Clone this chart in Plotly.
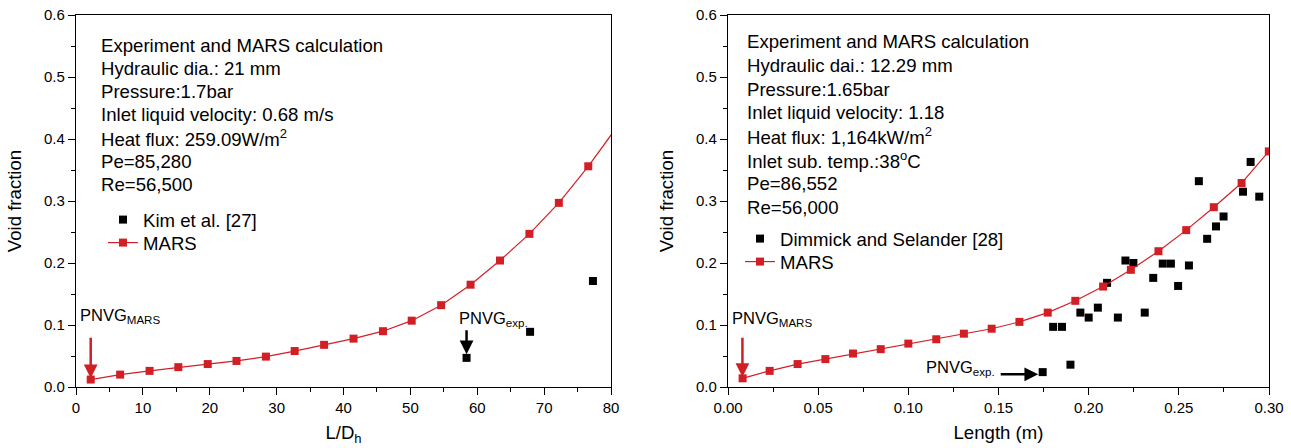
import plotly.graph_objects as go

# ---------------- data ----------------
left_ld = [2.2, 6.6, 11.0, 15.3, 19.7, 24.0, 28.4, 32.7, 37.1, 41.5, 45.9, 50.2,
           54.6, 59.0, 63.4, 67.8, 72.2, 76.6, 81.0]
left_mars = [0.012, 0.020, 0.026, 0.032, 0.037, 0.042, 0.049, 0.058, 0.068, 0.078,
             0.090, 0.107, 0.132, 0.165, 0.204, 0.247, 0.297, 0.356, 0.421]
left_exp_x = [58.4, 67.9, 77.3]
left_exp_y = [0.047, 0.089, 0.171]

right_len = [0.0081, 0.0231, 0.0386, 0.0540, 0.0693, 0.0847, 0.1000, 0.1155, 0.1308,
             0.1462, 0.1616, 0.1773, 0.1926, 0.2080, 0.2234, 0.2387, 0.2541, 0.2694,
             0.2848, 0.2999]
right_mars = [0.014, 0.026, 0.037, 0.045, 0.054, 0.061, 0.070, 0.077, 0.086, 0.094,
              0.105, 0.120, 0.139, 0.162, 0.189, 0.219, 0.253, 0.290, 0.329, 0.380]
right_exp_x = [0.1745, 0.1803, 0.1852, 0.1899, 0.1954, 0.2000, 0.2051, 0.2102, 0.2162,
               0.2204, 0.2248, 0.2311, 0.2358, 0.2411, 0.2456, 0.2496, 0.2556, 0.2611,
               0.2657, 0.2706, 0.2748, 0.2856, 0.2898, 0.2946]
right_exp_y = [0.024, 0.097, 0.097, 0.036, 0.120, 0.112, 0.128, 0.168, 0.112,
               0.204, 0.200, 0.120, 0.176, 0.199, 0.199, 0.163, 0.196, 0.332,
               0.239, 0.259, 0.275, 0.315, 0.363, 0.307]

left_info = ["Experiment and MARS calculation", "Hydraulic dia.: 21 mm", "Pressure:1.7bar",
             "Inlet liquid velocity: 0.68 m/s", "Heat flux: 259.09W/m<sup>2</sup>",
             "Pe=85,280", "Re=56,500"]
right_info = ["Experiment and MARS calculation", "Hydraulic dai.: 12.29 mm", "Pressure:1.65bar",
              "Inlet liquid velocity: 1.18", "Heat flux: 1,164kW/m<sup>2</sup>",
              "Inlet sub. temp.:38<sup>o</sup>C", "Pe=86,552", "Re=56,000"]

RED = "#d21f26"
FONT = "Arial, Liberation Sans, sans-serif"
W, H = 1291, 448
T, B = 15, 61
PH = H - T - B
TXT = 18.6


def px_x(p):
    return p / W


def px_y(p):
    return (H - B - p) / PH


fig = go.Figure()
fig.add_trace(go.Scatter(x=left_exp_x, y=left_exp_y, mode="markers", name="Kim et al. [27]",
                         marker=dict(symbol="square", size=8, color="black"),
                         xaxis="x", yaxis="y", legend="legend"))
fig.add_trace(go.Scatter(x=left_ld, y=left_mars, mode="lines+markers", name="MARS",
                         line=dict(color=RED, width=1.2),
                         marker=dict(symbol="square", size=8, color=RED),
                         xaxis="x", yaxis="y", legend="legend2"))
fig.add_trace(go.Scatter(x=right_exp_x, y=right_exp_y, mode="markers",
                         name="Dimmick and Selander [28]",
                         marker=dict(symbol="square", size=8, color="black"),
                         xaxis="x2", yaxis="y2", legend="legend3"))
fig.add_trace(go.Scatter(x=right_len, y=right_mars, mode="lines+markers", name="MARS",
                         line=dict(color=RED, width=1.2),
                         marker=dict(symbol="square", size=8, color=RED),
                         xaxis="x2", yaxis="y2", legend="legend4"))

axis_common = dict(showline=True, linecolor="black", linewidth=1.3, mirror=True,
                   ticks="outside", ticklen=7, tickwidth=1.2, tickcolor="black",
                   showgrid=False, zeroline=False, automargin=False,
                   tickfont=dict(family=FONT, size=15, color="black"))
minor_common = dict(ticks="outside", ticklen=4, tickwidth=1.1, tickcolor="black")


def leg(x, y):
    return dict(x=x, y=y, xanchor="left", yanchor="middle", xref="paper", yref="paper",
                bgcolor="rgba(0,0,0,0)", font=dict(family=FONT, size=TXT), borderwidth=0)


fig.update_layout(
    width=W, height=H,
    showlegend=True,
    margin=dict(l=0, r=0, t=T, b=B, autoexpand=False),
    paper_bgcolor="white", plot_bgcolor="white",
    font=dict(family=FONT, size=18, color="black"),
    xaxis=dict(domain=[76/W, 611/W], range=[0, 80], dtick=10, tick0=0,
               minor=dict(dtick=5, **minor_common),
               title=dict(text="L/D<sub>h</sub>", standoff=10, font=dict(size=TXT)),
               anchor="y", **axis_common),
    yaxis=dict(domain=[0, 1], range=[0, 0.6], dtick=0.1, tickformat=".1f",
               minor=dict(dtick=0.05, **minor_common),
               title=dict(text="Void fraction", standoff=17, font=dict(size=TXT)),
               anchor="x", **axis_common),
    xaxis2=dict(domain=[728/W, 1269/W], range=[0, 0.30], dtick=0.05, tickformat=".2f",
                minor=dict(dtick=0.025, **minor_common),
                title=dict(text="Length (m)", standoff=10, font=dict(size=TXT)),
                anchor="y2", **axis_common),
    yaxis2=dict(domain=[0, 1], range=[0, 0.6], dtick=0.1, tickformat=".1f",
                minor=dict(dtick=0.05, **minor_common),
                title=dict(text="Void fraction", standoff=17, font=dict(size=TXT)),
                anchor="x2", **axis_common),
    legend=leg(px_x(103), px_y(220)),
    legend2=leg(px_x(103), px_y(243)),
    legend3=leg(px_x(740), px_y(239)),
    legend4=leg(px_x(740), px_y(262)),
)

# info text blocks, one annotation per line
for i, line in enumerate(left_info):
    fig.add_annotation(x=px_x(98.7), y=px_y(45 + 23.2 * i), xref="paper", yref="paper",
                       xanchor="left", yanchor="middle", text=line, showarrow=False,
                       font=dict(size=TXT))
for i, line in enumerate(right_info):
    fig.add_annotation(x=px_x(745.4), y=px_y(41.7 + 23.65 * i), xref="paper", yref="paper",
                       xanchor="left", yanchor="middle", text=line, showarrow=False,
                       font=dict(size=TXT))

# PNVG labels
fig.add_annotation(x=0.3, y=0.114, xref="x", yref="y", xanchor="left", yanchor="middle",
                   text="PNVG<sub>MARS</sub>", showarrow=False, font=dict(size=16.5))
fig.add_annotation(x=57.0, y=0.110, xref="x", yref="y", xanchor="left", yanchor="middle",
                   text="PNVG<sub>exp.</sub>", showarrow=False, font=dict(size=16.5))
fig.add_annotation(x=0.0012, y=0.109, xref="x2", yref="y2", xanchor="left", yanchor="middle",
                   text="PNVG<sub>MARS</sub>", showarrow=False, font=dict(size=16.5))
fig.add_annotation(x=0.1085, y=0.030, xref="x2", yref="y2", xanchor="left", yanchor="middle",
                   text="PNVG<sub>exp.</sub>", showarrow=False, font=dict(size=16.5))

# arrows
arrow_style = dict(showarrow=True, text="", arrowhead=2, arrowwidth=2.5, arrowsize=1.1,
                   standoff=0)
fig.add_annotation(x=2.2, y=0.014, ax=2.2, ay=0.082, xref="x", yref="y", axref="x", ayref="y",
                   arrowcolor=RED, **arrow_style)
fig.add_annotation(x=58.4, y=0.053, ax=58.4, ay=0.094, xref="x", yref="y", axref="x", ayref="y",
                   arrowcolor="black", **arrow_style)
fig.add_annotation(x=0.008, y=0.016, ax=0.008, ay=0.082, xref="x2", yref="y2", axref="x2",
                   ayref="y2", arrowcolor=RED, **arrow_style)
fig.add_annotation(x=0.172, y=0.0205, ax=0.1504, ay=0.0205, xref="x2", yref="y2", axref="x2",
                   ayref="y2", arrowcolor="black", **arrow_style)

fig.write_html("out.html")
